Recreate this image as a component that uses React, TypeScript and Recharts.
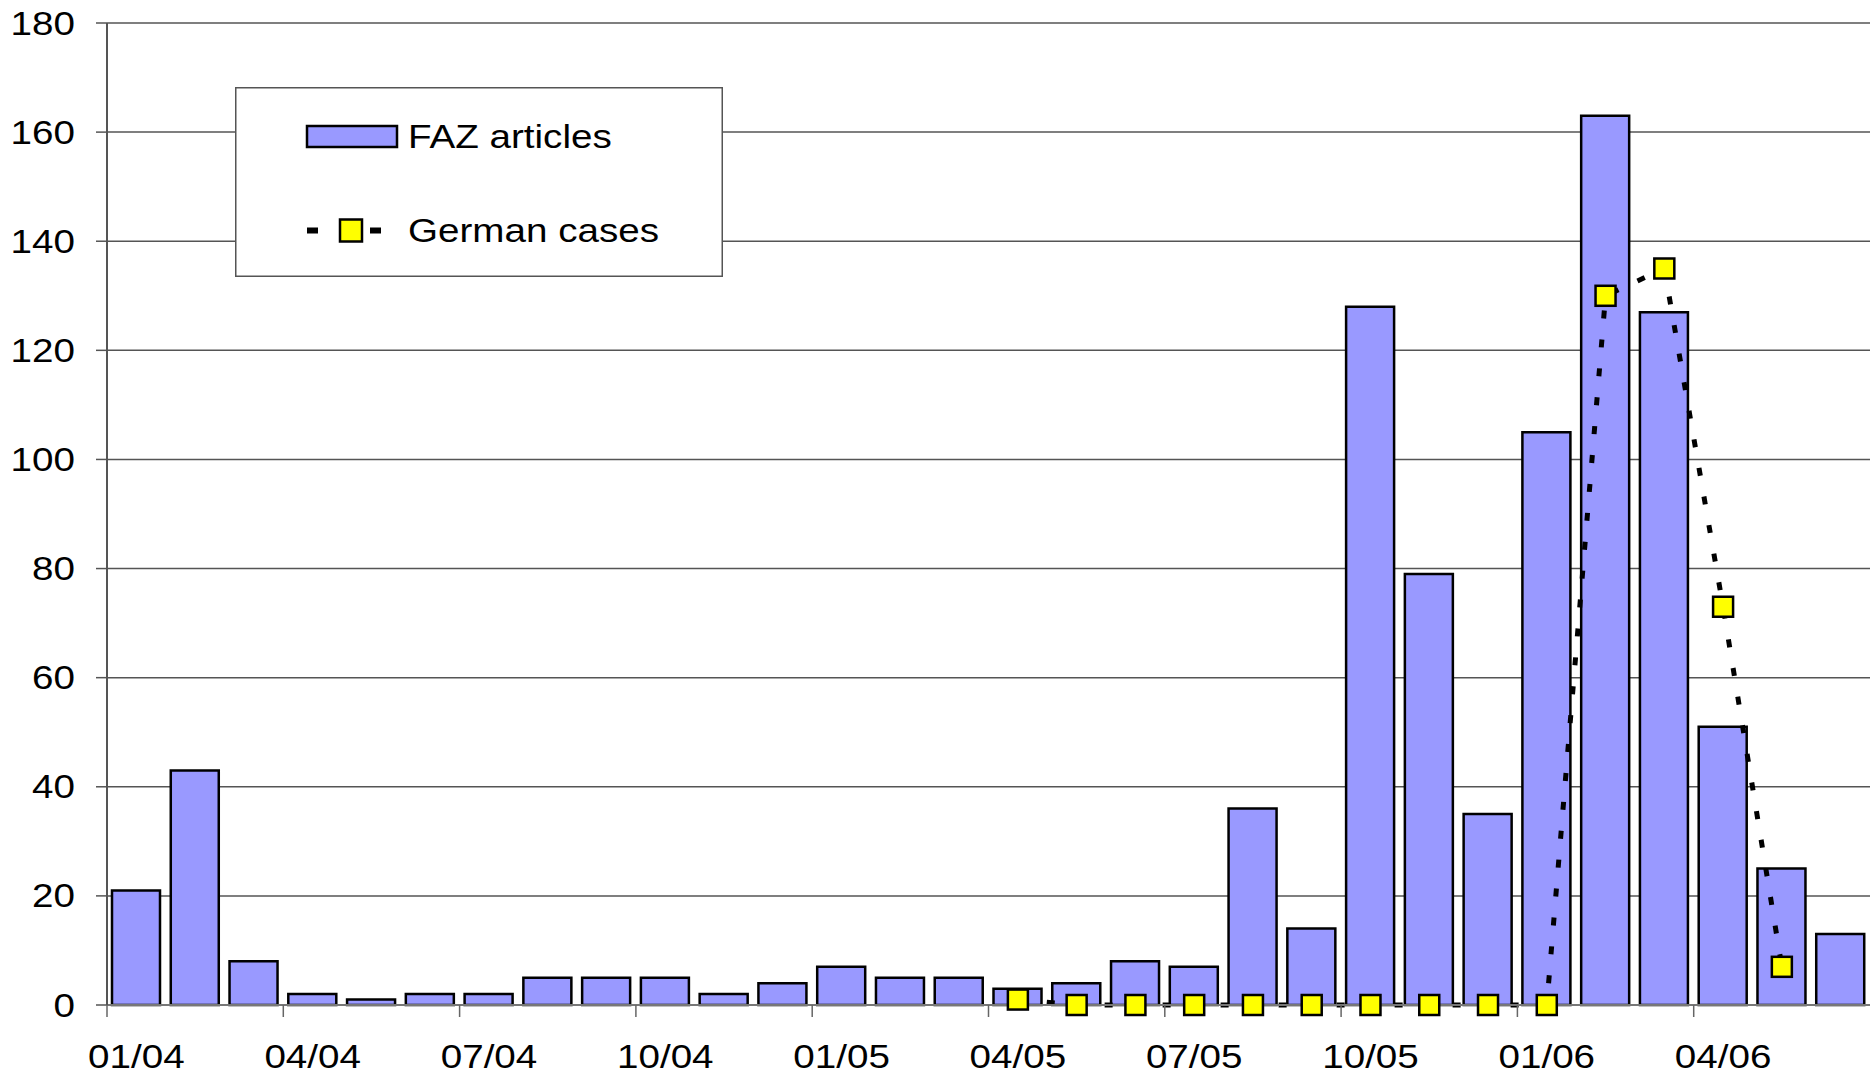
import React from 'react';
import { ComposedChart, Bar, Line, XAxis, YAxis, CartesianGrid, Legend } from 'recharts';

const months = [
  '01/04', '02/04', '03/04', '04/04', '05/04', '06/04', '07/04', '08/04', '09/04', '10/04', '11/04', '12/04',
  '01/05', '02/05', '03/05', '04/05', '05/05', '06/05', '07/05', '08/05', '09/05', '10/05', '11/05', '12/05',
  '01/06', '02/06', '03/06', '04/06', '05/06', '06/06',
];
const fazArticles = [21, 43, 8, 2, 1, 2, 2, 5, 5, 5, 2, 4, 7, 5, 5, 3, 4, 8, 7, 36, 14, 128, 79, 35, 105, 163, 127, 51, 25, 13];
const germanCases: (number | null)[] = [
  null, null, null, null, null, null, null, null, null, null, null, null,
  null, null, null, 1, 0, 0, 0, 0, 0, 0, 0, 0,
  0, 130, 135, 73, 7, null,
];
const yTicks = [0, 20, 40, 60, 80, 100, 120, 140, 160, 180];

const data = months.map((m, i) => ({ month: m, faz: fazArticles[i], german: germanCases[i] }));

const FONT = "'Liberation Sans', Arial, Helvetica, sans-serif";
const FS = 33;
const SX = 1.17;

const YTick = (props: any) => {
  const { x, y, payload } = props;
  return (
    <text
      transform={`translate(${x}, ${y + 11.5}) scale(${SX},1)`}
      textAnchor="end"
      fontSize={FS}
      fontFamily={FONT}
      fill="#000"
    >
      {payload.value}
    </text>
  );
};

const XTick = (props: any) => {
  const { x, y, payload } = props;
  const off = payload && typeof payload.offset === 'number' && payload.offset > 0 ? payload.offset : 29.38;
  return (
    <g>
      <line x1={x - off} x2={x - off} y1={y} y2={y + 12} stroke="#666" strokeWidth={1.5} />
      <text
        transform={`translate(${x}, ${y + 63}) scale(${SX},1)`}
        textAnchor="middle"
        fontSize={FS}
        fontFamily={FONT}
        fill="#000"
      >
        {payload.value}
      </text>
    </g>
  );
};

const SquareDot = (props: any) => {
  const { cx, cy, index, value } = props;
  if (cx == null || cy == null || value == null || Number.isNaN(cy)) return <g key={`d-${index}`} />;
  return (
    <rect key={`d-${index}`} x={cx - 10} y={cy - 10} width={20} height={20} fill="#FFFF00" stroke="#000" strokeWidth={2.5} />
  );
};

const renderLegend = () => (
  <svg width={488} height={190} style={{ display: 'block' }}>
    <rect x={0.75} y={0.75} width={486.5} height={188.5} fill="#fff" stroke="#555" strokeWidth={1.5} />
    <rect x={72} y={39} width={90} height={21} fill="#9999FF" stroke="#000" strokeWidth={2.5} />
    <text transform={`translate(173, 61) scale(${SX},1)`} fontSize={FS} fontFamily={FONT} fill="#000">
      FAZ articles
    </text>
    <rect x={72} y={140.5} width={11} height={6} fill="#000" />
    <rect x={135} y={140.5} width={11} height={6} fill="#000" />
    <rect x={105} y={132.5} width={22} height={22} fill="#FFFF00" stroke="#000" strokeWidth={2.5} />
    <text transform={`translate(173, 155) scale(${SX},1)`} fontSize={FS} fontFamily={FONT} fill="#000">
      German cases
    </text>
  </svg>
);

export default function App() {
  return (
    <div style={{ position: 'absolute', left: 0, top: 0, width: 1870, height: 1075, background: '#fff' }}>
      <ComposedChart width={1870} height={1075} data={data} margin={{ top: 23, right: 0, bottom: 0, left: 0 }}>
        <CartesianGrid vertical={false} stroke="#555" strokeWidth={1.5} />
        <XAxis
          dataKey="month"
          height={70}
          interval={2}
          tickSize={0}
          tickMargin={0}
          tickLine={false}
          axisLine={{ stroke: '#777', strokeWidth: 2 }}
          tick={<XTick />}
        />
        <YAxis
          width={107}
          domain={[0, 180]}
          ticks={yTicks}
          interval={0}
          tickSize={11}
          tickMargin={21}
          tickLine={{ stroke: '#555', strokeWidth: 1.5 }}
          axisLine={{ stroke: '#555', strokeWidth: 2 }}
          tick={<YTick />}
        />
        <Bar dataKey="faz" name="FAZ articles" fill="#9999FF" stroke="#000" strokeWidth={2.5} barSize={48} isAnimationActive={false} />
        <Line
          type="linear"
          dataKey="german"
          name="German cases"
          stroke="#000"
          strokeWidth={5}
          strokeDasharray="8 21"
          dot={SquareDot}
          activeDot={false}
          connectNulls={false}
          isAnimationActive={false}
        />
        <Legend
          layout="horizontal"
          verticalAlign="middle"
          align="center"
          wrapperStyle={{ left: 235, top: 87, width: 488, height: 190 }}
          content={renderLegend}
        />
      </ComposedChart>
    </div>
  );
}
